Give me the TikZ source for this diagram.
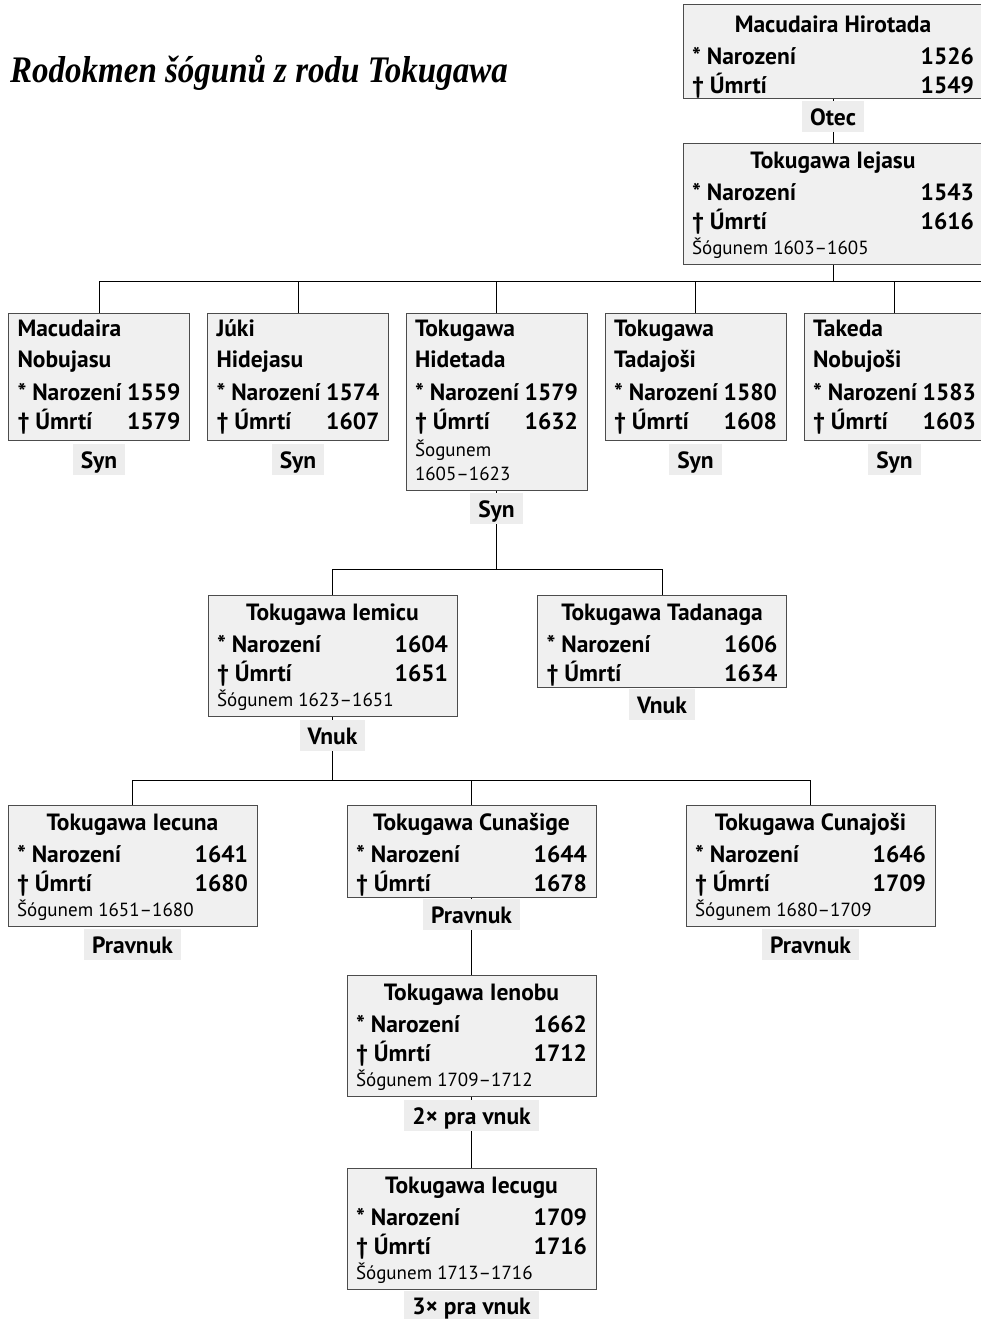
\documentclass[tikz,border=0pt]{standalone}
\usepackage{fontspec}
\setmainfont{PT Sans}
\newfontfamily\nadpisfont[FakeStretch=0.88]{Liberation Serif}
\usetikzlibrary{positioning,backgrounds}
\setlength{\parindent}{0pt}

% obsah ramecku
\newcommand{\doprava}{\nobreak\hskip 0pt plus 1filll\relax}
\newcommand{\jmeno}[2][25pt]{{\centering\rule{0pt}{#1}#2\par}\vspace{3pt}}
\newcommand{\jmenodve}[2]{\rule{0pt}{23.4pt}#1\par\vspace{2pt}#2\par\vspace{4pt}}
\newcommand{\data}[3]{* Narození\doprava #1\par † Úmrtí\doprava #2\rule[-#3]{0pt}{#3}}
\newcommand{\sogun}[1]{\par{\fontsize{19}{24.8}\selectfont\mdseries #1\rule[-10pt]{0pt}{10pt}\par}}

\tikzset{
  osoba/.style={draw=black!70, fill=black!6, line width=1pt, anchor=north,
    text width=#1, inner xsep=9pt, inner ysep=0pt, align=flush left,
    font=\fontsize{23.5}{29}\selectfont\bfseries},
  osoba/.default=163pt,
  vztah/.style={fill=black!7, inner xsep=8pt, inner ysep=4pt, text height=20pt, text depth=3pt,
    font=\fontsize{23.5}{29}\selectfont\bfseries},
  spoj/.style={line width=2pt, draw=black!90},
}

\begin{document}
\begin{tikzpicture}[x=1pt,y=-1pt]
\useasboundingbox (0,0) rectangle (981,1319);

\node[anchor=base west, inner sep=0pt,
  font=\nadpisfont\fontsize{37.5}{38}\selectfont\bfseries\itshape] (nadpis) at (10,83)
  {Rodokmen šógunů z rodu Tokugawa};

% otec a Iejasu
\node[osoba=282pt] (hirotada) at (833,4) {\jmeno[28.5pt]{Macudaira Hirotada}\data{1526}{1549}{3.5pt}};
\node[vztah, below=2pt of hirotada] (otec) {Otec};
\node[osoba=282pt] (iejasu) at (833,143) {\jmeno{Tokugawa Iejasu}\data{1543}{1616}{0pt}\sogun{Šógunem 1603–1605}};

% synove
\node[osoba] (nobujasu) at (99,313) {\jmenodve{Macudaira}{Nobujasu}\data{1559}{1579}{10.6pt}};
\node[osoba] (hidejasu) at (298,313) {\jmenodve{Júki}{Hidejasu}\data{1574}{1607}{10.6pt}};
\node[osoba] (hidetada) at (496.5,313) {\jmenodve{Tokugawa}{Hidetada}\data{1579}{1632}{0pt}%
  \par\vspace{2.25pt}{\fontsize{19}{24}\selectfont\mdseries Šogunem\par 1605–1623\rule[-10.4pt]{0pt}{10.4pt}\par}};
\node[osoba] (tadajosi) at (695.5,313) {\jmenodve{Tokugawa}{Tadajoši}\data{1580}{1608}{10.6pt}};
\node[osoba] (nobujosi) at (894.5,313) {\jmenodve{Takeda}{Nobujoši}\data{1583}{1603}{10.6pt}};
\node[vztah, below=3pt of nobujasu] (synA) {Syn};
\node[vztah, below=3pt of hidejasu] (synB) {Syn};
\node[vztah, below=2pt of hidetada] (synC) {Syn};
\node[vztah, below=3pt of tadajosi] (synD) {Syn};
\node[vztah, below=3pt of nobujosi] (synE) {Syn};

% vnuci
\node[osoba=231pt] (iemicu) at (332.5,595) {\jmeno{Tokugawa Iemicu}\data{1604}{1651}{0pt}\sogun{Šógunem 1623–1651}};
\node[osoba=231pt] (tadanaga) at (662,595) {\jmeno{Tokugawa Tadanaga}\data{1606}{1634}{6pt}};
\node[vztah, below=3pt of iemicu] (vnukA) {Vnuk};
\node[vztah, below=1pt of tadanaga] (vnukB) {Vnuk};

% pravnuci
\node[osoba=231pt] (iecuna) at (132.5,805) {\jmeno{Tokugawa Iecuna}\data{1641}{1680}{0pt}\sogun{Šógunem 1651–1680}};
\node[osoba=231pt] (cunasige) at (471.5,805) {\jmeno{Tokugawa Cunašige}\data{1644}{1678}{6pt}};
\node[osoba=231pt] (cunajosi) at (810.5,805) {\jmeno{Tokugawa Cunajoši}\data{1646}{1709}{0pt}\sogun{Šógunem 1680–1709}};
\node[vztah, below=2pt of iecuna] (pravnukA) {Pravnuk};
\node[vztah, below=1pt of cunasige] (pravnukB) {Pravnuk};
\node[vztah, below=2pt of cunajosi] (pravnukC) {Pravnuk};

\node[osoba=231pt] (ienobu) at (471.5,975) {\jmeno{Tokugawa Ienobu}\data{1662}{1712}{0pt}\sogun{Šógunem 1709–1712}};
\node[vztah, below=3pt of ienobu] (pravnuk2) {2× pra vnuk};
\node[osoba=231pt] (iecugu) at (471.5,1168) {\jmeno{Tokugawa Iecugu}\data{1709}{1716}{0pt}\sogun{Šógunem 1713–1716}};
\node[vztah, below=1pt of iecugu, text height=19pt] (pravnuk3) {3× pra vnuk};

% spojnice
\begin{scope}[on background layer, spoj]
  \coordinate (synove) at (985,281);
  \coordinate (vnuci) at (0,569);
  \coordinate (pravnuci) at (0,780);
  \draw (hirotada.south) -- (iejasu.north);
  \draw (iejasu.south) -- (iejasu.south |- synove);
  \draw (nobujasu.north) |- (synove);
  \foreach \s in {hidejasu,hidetada,tadajosi,nobujosi}
    \draw (\s.north) -- (\s.north |- synove);
  \draw (hidetada.south) -- (hidetada.south |- vnuci);
  \draw (iemicu.north) |- (vnuci -| tadanaga.north) -- (tadanaga.north);
  \draw (iemicu.south) -- (iemicu.south |- pravnuci);
  \draw (iecuna.north) |- (pravnuci -| cunajosi.north) -- (cunajosi.north);
  \draw (cunasige.north) -- (cunasige.north |- pravnuci);
  \draw (cunasige.south) -- (ienobu.north);
  \draw (ienobu.south) -- (iecugu.north);
\end{scope}
\end{tikzpicture}
\end{document}
